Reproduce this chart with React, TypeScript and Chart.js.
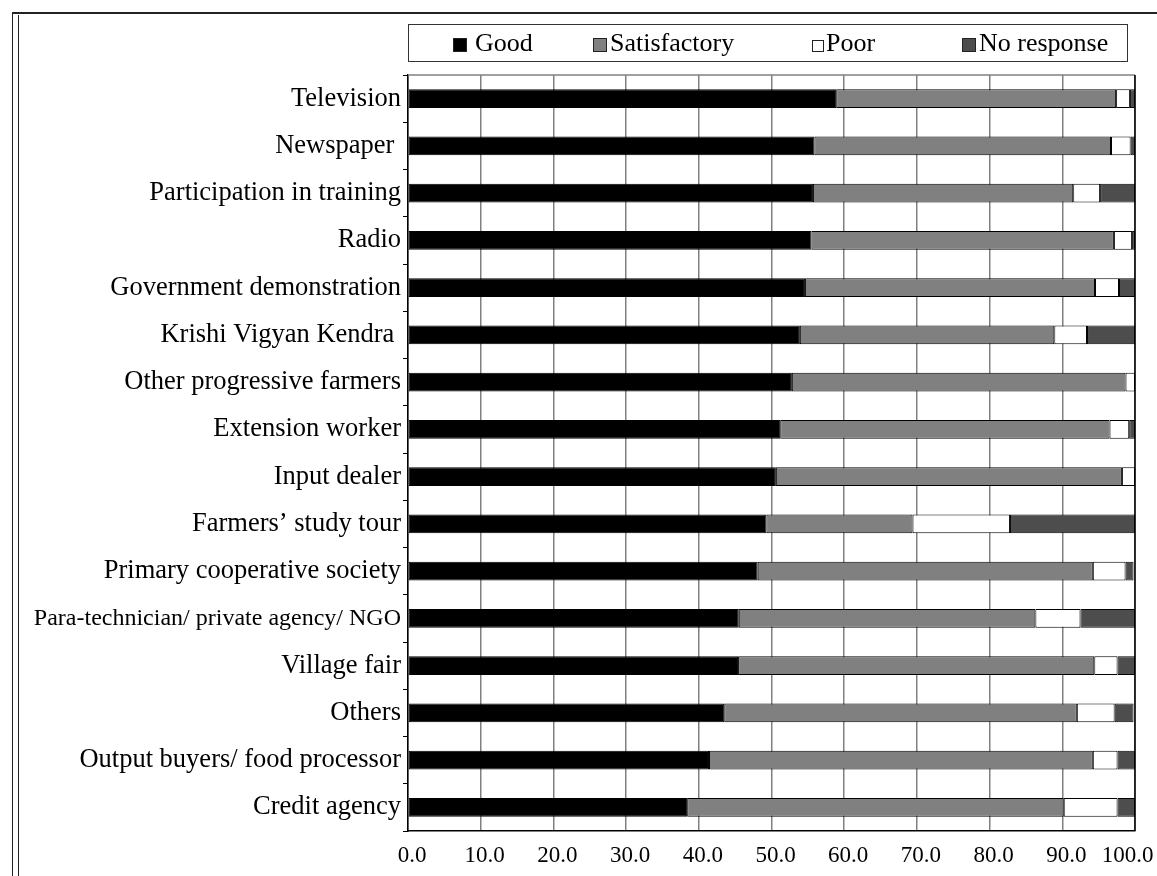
import React, { useEffect, useRef } from "react";
import { Chart, registerables } from "chart.js";

Chart.register(...registerables);

const categories = [
  "Television",
  "Newspaper ",
  "Participation in training",
  "Radio",
  "Government demonstration",
  "Krishi Vigyan Kendra ",
  "Other progressive farmers",
  "Extension worker",
  "Input dealer",
  "Farmers’ study tour",
  "Primary cooperative society",
  "Para-technician/ private agency/ NGO",
  "Village fair",
  "Others",
  "Output buyers/ food processor",
  "Credit agency",
];

const good = [58.9, 55.9, 55.7, 55.5, 54.6, 53.9, 52.8, 51.2, 50.6, 49.3, 48.1, 45.5, 45.4, 43.5, 41.4, 38.4];
const satisfactory = [38.5, 40.8, 35.8, 41.6, 39.9, 35.0, 45.9, 45.3, 47.6, 20.1, 46.1, 40.8, 49.0, 48.5, 52.8, 51.8];
const poor = [1.9, 2.7, 3.7, 2.5, 3.3, 4.5, 1.3, 2.7, 1.8, 13.4, 4.5, 6.2, 3.2, 5.2, 3.4, 7.4];
const noResponse = [0.7, 0.6, 4.8, 0.4, 2.2, 6.6, 0.0, 0.8, 0.0, 17.2, 1.1, 7.5, 2.4, 2.6, 2.4, 2.4];

const xTickLabels = ["0.0", "10.0", "20.0", "30.0", "40.0", "50.0", "60.0", "70.0", "80.0", "90.0", "100.0"];

const seriesNames = ["Good", "Satisfactory", "Poor", "No response"];
const seriesColors = ["#000000", "#808080", "#ffffff", "#4d4d4d"];

const FONT = "'Liberation Serif', 'Times New Roman', serif";

const plotBorder = {
  id: "plotBorder",
  afterDraw(chart: any) {
    const { ctx, chartArea: a } = chart;
    ctx.save();
    ctx.lineWidth = 1.5;
    ctx.strokeStyle = "#808080";
    ctx.beginPath();
    ctx.moveTo(a.left, a.top);
    ctx.lineTo(a.right, a.top);
    ctx.stroke();
    ctx.strokeStyle = "#000000";
    ctx.beginPath();
    ctx.moveTo(a.right, a.top);
    ctx.lineTo(a.right, a.bottom);
    ctx.stroke();
    ctx.restore();
  },
};

export default function App() {
  const canvasRef = useRef<HTMLCanvasElement | null>(null);

  useEffect(() => {
    if (!canvasRef.current) return;
    const values = [good, satisfactory, poor, noResponse];
    const chart = new Chart(canvasRef.current, {
      type: "bar",
      data: {
        labels: categories,
        datasets: values.map((d, i) => ({
          label: seriesNames[i],
          data: d,
          backgroundColor: seriesColors[i],
          borderColor: "#000000",
          borderWidth: 1,
          borderSkipped: false,
          barPercentage: 0.4,
          categoryPercentage: 1,
        })),
      },
      options: {
        indexAxis: "y",
        responsive: false,
        animation: false,
        layout: { padding: { top: 75, right: 22, left: 0, bottom: 0 } },
        plugins: {
          legend: { display: false },
          tooltip: { enabled: false },
        },
        scales: {
          x: {
            stacked: true,
            min: 0,
            max: 100,
            ticks: {
              stepSize: 10,
              autoSkip: false,
              maxRotation: 0,
              labelOffset: 4,
              padding: 11,
              color: "#000000",
              font: { family: FONT, size: 23 },
              callback: (_v: any, i: number) =>
                i === xTickLabels.length - 1 ? xTickLabels[i] + "    " : xTickLabels[i],
            },
            grid: { color: "#808080", lineWidth: 1.5, drawTicks: false },
            border: { color: "#000000", width: 1.5 },
            afterFit: (s: any) => {
              s.height = 45;
              s.paddingLeft = 0;
              s.paddingRight = 0;
            },
          },
          y: {
            stacked: true,
            ticks: {
              autoSkip: false,
              padding: 2,
              color: "#000000",
              font: (ctx: any) => ({ family: FONT, size: ctx.index === 11 ? 24 : 26.5 }),
            },
            grid: { offset: true, drawOnChartArea: false, tickLength: 5, color: "#000000", lineWidth: 1 },
            border: { color: "#000000", width: 1.5 },
            afterFit: (s: any) => {
              s.width = 408;
              s.paddingTop = 0;
              s.paddingBottom = 0;
            },
          },
        },
      },
      plugins: [plotBorder],
    } as any);
    return () => chart.destroy();
  }, []);

  const legendItems = [
    { box: 453, text: 475, size: 14 },
    { box: 593, text: 610, size: 14 },
    { box: 812, text: 826, size: 12 },
    { box: 962, text: 979, size: 14 },
  ];

  return (
    <div style={{ position: "fixed", left: 0, top: 0, width: 1157, height: 876, background: "#ffffff", overflow: "hidden" }}>
      <canvas ref={canvasRef} width={1157} height={876} style={{ position: "absolute", left: 0, top: 0, width: 1157, height: 876 }} />
      {/* outer frame */}
      <div style={{ position: "absolute", left: 12, top: 12, width: 1145, height: 2, background: "#222" }} />
      <div style={{ position: "absolute", left: 12, top: 12, width: 1, height: 864, background: "#222" }} />
      <div style={{ position: "absolute", left: 18, top: 15, width: 1, height: 861, background: "#222" }} />
      {/* legend */}
      <div style={{ position: "absolute", left: 408, top: 24, width: 720, height: 38, boxSizing: "border-box", border: "1.5px solid #333" }} />
      {legendItems.map((it, i) => (
        <React.Fragment key={seriesNames[i]}>
          <div
            style={{
              position: "absolute",
              left: it.box,
              top: 38 + (14 - it.size),
              width: it.size,
              height: it.size,
              boxSizing: "border-box",
              background: seriesColors[i],
              border: "1px solid #222",
            }}
          />
          <div
            style={{
              position: "absolute",
              left: it.text,
              top: 30,
              fontFamily: FONT,
              fontSize: 26,
              lineHeight: "26px",
              color: "#000",
              whiteSpace: "nowrap",
            }}
          >
            {seriesNames[i]}
          </div>
        </React.Fragment>
      ))}
    </div>
  );
}
